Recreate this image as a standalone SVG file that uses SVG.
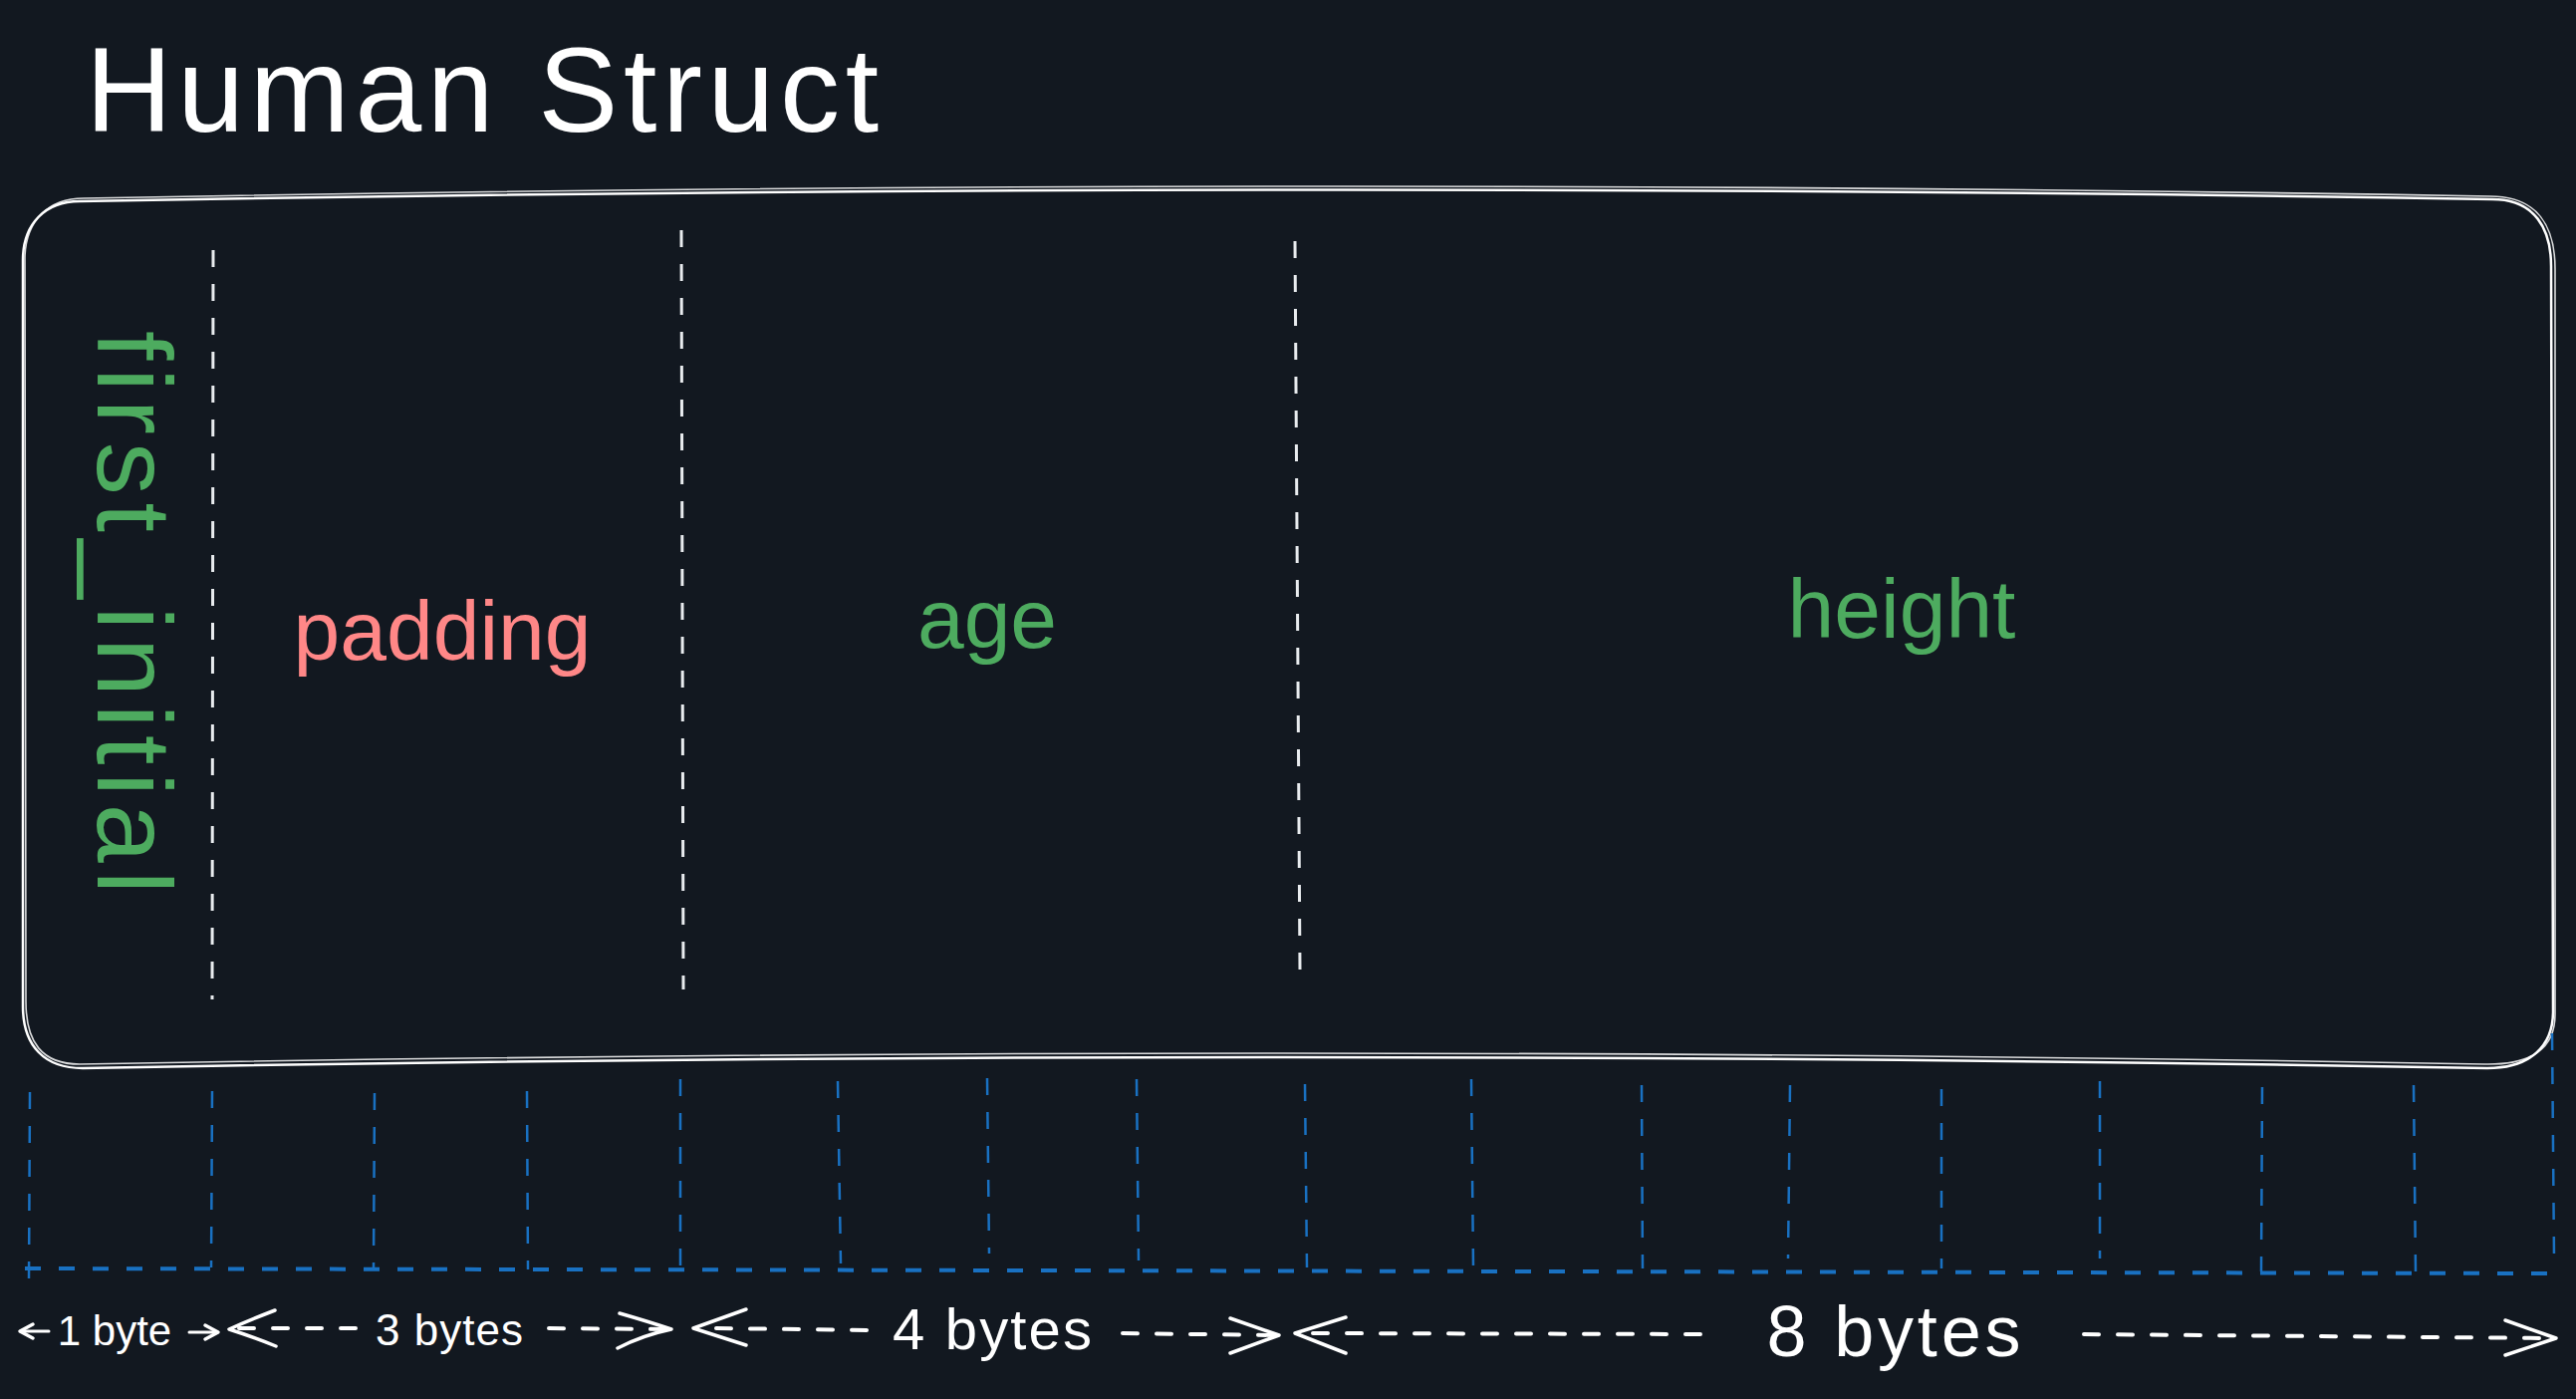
<svg xmlns="http://www.w3.org/2000/svg" width="2586" height="1404" viewBox="0 0 2586 1404">
  <style>
    text { font-family: "Liberation Sans", Arial, sans-serif; }
    .title { fill: #ffffff; font-size: 120px; }
    .green { fill: #4dab5f; font-size: 84px; }
    .pink { fill: #ff8787; font-size: 84px; }
    .size { fill: #ffffff; text-anchor: middle; }
    .rect { fill: none; stroke: #ffffff; stroke-width: 2.5; stroke-linejoin: round; }
    .rect2 { fill: none; stroke: #ffffff; stroke-width: 1.6; opacity: 0.85; }
    .divider { stroke: #e9ecef; stroke-width: 3; stroke-dasharray: 17 17; fill: none; }
    .grid { stroke: #1971c2; stroke-width: 2.5; stroke-dasharray: 17 17; fill: none; }
    .gridbase { stroke: #1971c2; stroke-width: 4; stroke-dasharray: 16 18; fill: none; }
    .dash { stroke: #ffffff; stroke-width: 4; stroke-dasharray: 15 19; stroke-linecap: round; fill: none; }
    .solid { stroke: #ffffff; stroke-width: 3; stroke-linecap: round; fill: none; }
    .head { stroke: #ffffff; stroke-width: 3.5; stroke-linecap: round; stroke-linejoin: round; fill: none; }
  </style>
  <rect width="2586" height="1404" fill="#121820"/>

  <g id="title">
    <text class="title" x="86" y="132" textLength="796" lengthAdjust="spacing">Human Struct</text>
  </g>

  <g id="struct">
    <path class="rect" d="M 80 202 Q 1290 180 2502 200 C 2545 200 2561 230 2561 267 L 2563 1015 C 2563 1050 2540 1072 2497 1072 Q 1290 1050 83 1072 C 45 1072 23 1050 23 1010 L 23 261 C 23 225 45 202 80 202 Z"/>
    <path class="rect2" d="M 84 199 Q 1290 176 2500 197 C 2548 197 2565 228 2565 270 L 2565 1018 C 2565 1052 2542 1069 2494 1068 Q 1290 1046 80 1068 C 42 1068 26 1046 26 1005 L 25 258 C 26 222 48 199 84 199 Z"/>
  </g>

  <g id="dividers">
    <line class="divider" x1="214" y1="251" x2="213" y2="1003"/>
    <line class="divider" x1="684" y1="231" x2="686" y2="993"/>
    <line class="divider" x1="1300" y1="242" x2="1305" y2="973"/>
  </g>

  <g id="field-first_initial">
    <text class="green" style="font-size:106px" transform="translate(98,332) rotate(90)" x="0" y="0" textLength="565" lengthAdjust="spacing">first_initial</text>
  </g>
  <g id="field-padding">
    <text class="pink" x="444" y="662" text-anchor="middle">padding</text>
  </g>
  <g id="field-age">
    <text class="green" x="991" y="650" text-anchor="middle">age</text>
  </g>
  <g id="field-height">
    <text class="green" x="1909" y="640" text-anchor="middle">height</text>
  </g>

  <g id="byte-grid">
    <line class="grid" x1="30" y1="1096" x2="29" y2="1284"/>
    <line class="grid" x1="213" y1="1095" x2="212" y2="1272"/>
    <line class="grid" x1="376" y1="1097" x2="375" y2="1273"/>
    <line class="grid" x1="529" y1="1095" x2="530" y2="1274"/>
    <line class="grid" x1="683" y1="1083" x2="683" y2="1270"/>
    <line class="grid" x1="841" y1="1085" x2="844" y2="1268"/>
    <line class="grid" x1="991" y1="1082" x2="993" y2="1258"/>
    <line class="grid" x1="1141" y1="1083" x2="1143" y2="1265"/>
    <line class="grid" x1="1310" y1="1088" x2="1312" y2="1272"/>
    <line class="grid" x1="1477" y1="1083" x2="1479" y2="1272"/>
    <line class="grid" x1="1648" y1="1089" x2="1649" y2="1273"/>
    <line class="grid" x1="1797" y1="1089" x2="1795" y2="1263"/>
    <line class="grid" x1="1949" y1="1093" x2="1949" y2="1273"/>
    <line class="grid" x1="2108" y1="1085" x2="2108" y2="1263"/>
    <line class="grid" x1="2271" y1="1091" x2="2270" y2="1276"/>
    <line class="grid" x1="2423" y1="1089" x2="2425" y2="1277"/>
    <line class="grid" x1="2562" y1="1037" x2="2564" y2="1262"/>
    <line class="gridbase" x1="25" y1="1273" x2="2557" y2="1278"/>
  </g>

  <g id="connectors">
    <!-- 1 byte -->
    <path class="solid" d="M 21 1336 L 49 1336 M 190 1337 L 218 1337"/>
    <path class="head" d="M 33 1329 L 20 1336 L 33 1343 M 206 1330 L 219 1337 L 206 1344"/>
    <!-- 3 bytes -->
    <path class="dash" d="M 240 1333 L 372 1333 M 551 1333 L 668 1334"/>
    <path class="head" d="M 276 1315 Q 250 1325 230 1334 Q 255 1342 277 1351 M 622 1318 Q 650 1326 674 1334 Q 645 1340 620 1353"/>
    <!-- 4 bytes -->
    <path class="dash" d="M 719 1333 L 878 1335 M 1127 1338 L 1280 1340"/>
    <path class="head" d="M 749 1314 L 696 1333 L 749 1350 M 1235 1323 L 1284 1340 L 1235 1358"/>
    <!-- 8 bytes -->
    <path class="dash" d="M 1318 1338 L 1714 1339 M 2092 1339 L 2560 1343"/>
    <path class="head" d="M 1351 1322 L 1300 1338 L 1351 1358 M 2515 1325 L 2566 1343 L 2515 1360"/>
  </g>

  <g id="label-1byte">
    <text class="size" x="115" y="1350" style="font-size:42px">1 byte</text>
  </g>
  <g id="label-3bytes">
    <text class="size" x="451" y="1350" style="font-size:44px" textLength="148" lengthAdjust="spacing">3 bytes</text>
  </g>
  <g id="label-4bytes">
    <text class="size" x="996" y="1354" style="font-size:58px" textLength="200" lengthAdjust="spacing">4 bytes</text>
  </g>
  <g id="label-8bytes">
    <text class="size" x="1901" y="1361" style="font-size:72px" textLength="255" lengthAdjust="spacing">8 bytes</text>
  </g>
</svg>
